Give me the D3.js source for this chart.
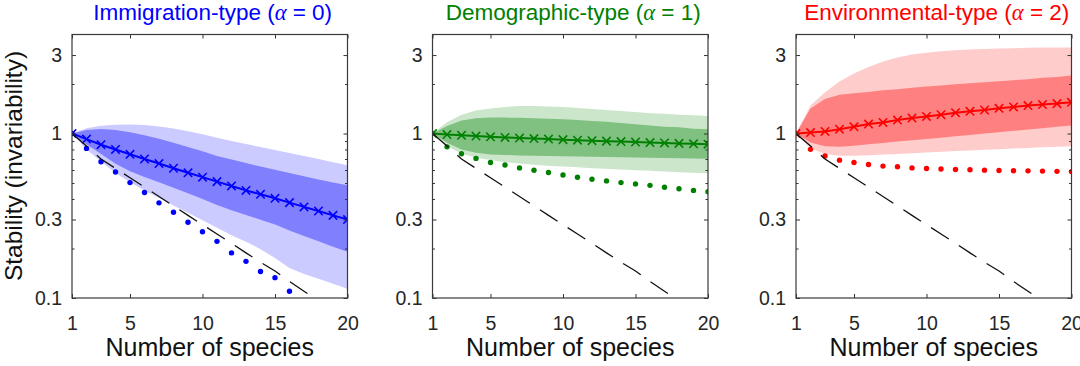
<!DOCTYPE html>
<html>
<head>
<meta charset="utf-8">
<script src="https://cdn.jsdelivr.net/npm/d3@7"></script>
<style>
    body { margin: 0; background: #fff; }
    svg { display: block; font-family: "Liberation Sans", Arial, Helvetica, sans-serif; }
</style>
</head>
<body>
<svg id="chart" width="1080" height="366"></svg>
<script>

// x values: number of species
let species = [1, 2, 3, 4, 5, 6, 7, 8, 9, 10, 11, 12, 13, 14, 15, 16, 17, 18, 19, 20];

// black dashed reference curve (same in every panel)
let refLine = [1, 0.84, 0.70, 0.614, 0.538, 0.472, 0.414, 0.363, 0.318, 0.279,
               0.245, 0.215, 0.188, 0.165, 0.146, 0.126, 0.110, 0.096, 0.083, 0.072];

// Immigration-type (alpha = 0)
let immMean    = [1, 0.925, 0.855, 0.800, 0.748, 0.700, 0.657, 0.615, 0.577, 0.543,
                  0.510, 0.480, 0.451, 0.427, 0.404, 0.380, 0.358, 0.338, 0.318, 0.300];
let immDots    = [1, 0.812, 0.674, 0.584, 0.503, 0.438, 0.379, 0.332, 0.289, 0.253,
                  0.221, 0.188, 0.167, 0.145, 0.133, 0.110];
let immLightHi = [1, 1.078, 1.114, 1.130, 1.135, 1.125, 1.104, 1.073, 1.033, 0.990,
                  0.941, 0.902, 0.864, 0.828, 0.794, 0.761, 0.729, 0.699, 0.670, 0.642];
let immDarkHi  = [1, 1.052, 1.067, 1.052, 1.019, 0.977, 0.929, 0.879, 0.828, 0.780,
                  0.730, 0.695, 0.661, 0.631, 0.603, 0.575, 0.550, 0.525, 0.504, 0.484];
let immDarkLo  = [1, 0.860, 0.750, 0.655, 0.590, 0.545, 0.505, 0.468, 0.434, 0.400,
                  0.368, 0.342, 0.320, 0.299, 0.280, 0.257, 0.238, 0.221, 0.205, 0.191];
let immLightLo = [1, 0.800, 0.675, 0.576, 0.505, 0.451, 0.405, 0.365, 0.330, 0.297,
                  0.267, 0.241, 0.220, 0.198, 0.175, 0.152, 0.140, 0.131, 0.122, 0.114];

// Demographic-type (alpha = 1)
let demMean    = [1, 0.985, 0.975, 0.965, 0.955, 0.947, 0.939, 0.932, 0.925, 0.918,
                  0.911, 0.905, 0.899, 0.893, 0.887, 0.881, 0.876, 0.871, 0.866, 0.861];
let demDots    = [1, 0.830, 0.754, 0.706, 0.667, 0.643, 0.618, 0.598, 0.579, 0.560,
                  0.542, 0.527, 0.515, 0.503, 0.494, 0.484, 0.471, 0.462, 0.451, 0.443];
let demLightHi = [1, 1.17, 1.30, 1.38, 1.42, 1.45, 1.47, 1.47, 1.46, 1.45,
                  1.43, 1.41, 1.39, 1.37, 1.35, 1.33, 1.32, 1.30, 1.29, 1.28];
let demDarkHi  = [1, 1.11, 1.20, 1.24, 1.25, 1.25, 1.245, 1.24, 1.23, 1.22,
                  1.21, 1.19, 1.18, 1.16, 1.14, 1.12, 1.10, 1.09, 1.07, 1.06];
let demDarkLo  = [1, 0.880, 0.800, 0.764, 0.746, 0.740, 0.736, 0.733, 0.730, 0.728,
                  0.726, 0.723, 0.720, 0.718, 0.716, 0.713, 0.710, 0.708, 0.705, 0.703];
let demLightLo = [1, 0.840, 0.754, 0.713, 0.690, 0.670, 0.657, 0.645, 0.637, 0.630,
                  0.623, 0.616, 0.610, 0.604, 0.598, 0.593, 0.587, 0.582, 0.578, 0.574];

// Environmental-type (alpha = 2)
let envMean    = [1, 1.014, 1.030, 1.063, 1.099, 1.141, 1.168, 1.207, 1.242, 1.271,
                  1.302, 1.339, 1.364, 1.390, 1.423, 1.451, 1.479, 1.500, 1.520, 1.549];
let envDots    = [1, 0.801, 0.730, 0.689, 0.667, 0.648, 0.634, 0.628, 0.618, 0.613,
                  0.608, 0.604, 0.602, 0.599, 0.596, 0.594, 0.593, 0.591, 0.589, 0.587];
let envLightHi = [1, 1.48, 1.78, 2.07, 2.32, 2.54, 2.74, 2.90, 3.02, 3.10,
                  3.16, 3.21, 3.24, 3.27, 3.29, 3.30, 3.32, 3.33, 3.33, 3.34];
let envDarkHi  = [1, 1.42, 1.62, 1.72, 1.76, 1.79, 1.83, 1.86, 1.90, 1.93,
                  1.96, 1.99, 2.02, 2.05, 2.08, 2.11, 2.14, 2.18, 2.21, 2.25];
let envDarkLo  = [1, 0.881, 0.836, 0.832, 0.844, 0.861, 0.877, 0.894, 0.910, 0.927,
                  0.944, 0.963, 0.981, 1.000, 1.019, 1.038, 1.058, 1.078, 1.099, 1.120];
let envLightLo = [1, 0.813, 0.750, 0.733, 0.733, 0.738, 0.745, 0.752, 0.759, 0.767,
                  0.774, 0.782, 0.789, 0.796, 0.803, 0.811, 0.817, 0.824, 0.830, 0.836];

// axis ticks
let xTicks = [1, 5, 10, 15, 20];
let yTicks = [0.1, 0.3, 1, 3];
let yTickLabels = ["0.1", "0.3", "1", "3"];
let yMinorTicks = [0.2, 0.4, 0.5, 0.6, 0.7, 0.8, 0.9, 2];

let panelTitles = ["Immigration-type", "Demographic-type", "Environmental-type"];
let alphaValues = [0, 1, 2];


/** One of the three small log-scale panels. */
class StabilityPanel {

    constructor(svg, left, cfg) {
        this.svg = svg;
        this.cfg = cfg;

        this.box = {"left": left, "top": 34.5, "width": 275.5, "height": 263.5};

        this.x = d3.scaleLinear()
            .domain([1, 20])
            .range([left, left + this.box.width]);

        this.y = d3.scaleLog()
            .domain([0.1, 4])
            .range([this.box.top + this.box.height, this.box.top]);

        this.g = svg.append('g');
    }

    draw() {
        let cfg = this.cfg;
        let x = this.x, y = this.y;

        //clip marks to the plotting box
        let clipId = 'clip' + cfg.index;
        this.svg.append('clipPath').attr('id', clipId)
          .append('rect')
            .attr('x', this.box.left).attr('y', this.box.top)
            .attr('width', this.box.width).attr('height', this.box.height);

        let plot = this.g.append('g').attr('clip-path', 'url(#' + clipId + ')');

        let band = d3.area()
            .x(function(d){ return x(d.n); })
            .y0(function(d){ return y(d.lo); })
            .y1(function(d){ return y(d.hi); });

        let outer = species.map(function(n, i){ return {n: n, lo: cfg.lightLo[i], hi: cfg.lightHi[i]}; });
        let inner = species.map(function(n, i){ return {n: n, lo: cfg.darkLo[i], hi: cfg.darkHi[i]}; });

        plot.append('path').datum(outer).attr('d', band).style('fill', cfg.light);
        plot.append('path').datum(inner).attr('d', band).style('fill', cfg.dark);

        //mean line with x markers
        let line = d3.line()
            .x(function(d){ return x(d.n); })
            .y(function(d){ return y(d.v); });

        let meanData = species.map(function(n, i){ return {n: n, v: cfg.mean[i]}; });
        plot.append('path').datum(meanData)
            .attr('d', line)
            .style('fill', 'none')
            .style('stroke', cfg.color)
            .style('stroke-width', 2);

        plot.selectAll('.xmark').data(meanData)
            .enter()
            .append('path')
            .attr('class', 'xmark')
            .attr('transform', function(d){ return 'translate(' + x(d.n) + ',' + y(d.v) + ')'; })
            .attr('d', 'M-4.2,-4.2L4.2,4.2M-4.2,4.2L4.2,-4.2')
            .style('stroke', cfg.color)
            .style('stroke-width', 1.6)
            .style('fill', 'none');

        //dotted series
        plot.selectAll('.dot').data(cfg.dots)
            .enter()
            .append('circle')
            .attr('class', 'dot')
            .attr('cx', function(d, i){ return x(species[i]); })
            .attr('cy', function(d){ return y(d); })
            .attr('r', 2.7)
            .style('fill', cfg.color);

        //dashed reference
        let refData = species.map(function(n, i){ return {n: n, v: refLine[i]}; });
        plot.append('path').datum(refData)
            .attr('d', line)
            .style('fill', 'none')
            .style('stroke', '#111')
            .style('stroke-width', 1.3)
            .style('stroke-dasharray', '21,12');

        this.drawAxes();
        this.drawLabels();
    }

    drawAxes() {
        let b = this.box;
        let bottom = b.top + b.height;
        let right = b.left + b.width;
        let ax = this.g.append('g').attr('class', 'axes');

        let xAxis = d3.axisBottom(this.x).tickValues(xTicks).tickSize(-4).tickSizeOuter(0).tickPadding(18);
        let xTop = d3.axisTop(this.x).tickValues(xTicks).tickSize(-4).tickSizeOuter(0).tickFormat('');
        let yAxis = d3.axisLeft(this.y).tickValues(yTicks).tickSize(-4).tickSizeOuter(0).tickPadding(10)
            .tickFormat(function(d, i){ return yTickLabels[i]; });
        let yRight = d3.axisRight(this.y).tickValues(yTicks).tickSize(-4).tickSizeOuter(0).tickFormat('');
        let yMinorL = d3.axisLeft(this.y).tickValues(yMinorTicks).tickSize(-2.5).tickSizeOuter(0).tickFormat('');
        let yMinorR = d3.axisRight(this.y).tickValues(yMinorTicks).tickSize(-2.5).tickSizeOuter(0).tickFormat('');

        ax.append('g').attr('transform', 'translate(0,' + bottom + ')').call(xAxis);
        ax.append('g').attr('transform', 'translate(0,' + b.top + ')').call(xTop);
        ax.append('g').attr('transform', 'translate(' + b.left + ',0)').call(yAxis);
        ax.append('g').attr('transform', 'translate(' + right + ',0)').call(yRight);
        ax.append('g').attr('transform', 'translate(' + b.left + ',0)').call(yMinorL);
        ax.append('g').attr('transform', 'translate(' + right + ',0)').call(yMinorR);

        ax.selectAll('.domain').remove();
        ax.selectAll('.tick line').style('stroke', '#333').style('stroke-width', 1);
        ax.selectAll('.tick text')
            .style('font-size', '19.5px')
            .style('font-family', '"Liberation Sans", Arial, sans-serif')
            .style('fill', '#262626');

        //frame
        ax.append('rect')
            .attr('x', b.left).attr('y', b.top)
            .attr('width', b.width).attr('height', b.height)
            .style('fill', 'none')
            .style('stroke', '#3a3a3a')
            .style('stroke-width', 1.2);
    }

    drawLabels() {
        let b = this.box;
        let cx = b.left + b.width / 2;

        let title = this.g.append('text')
            .attr('x', cx + 3)
            .attr('y', 20)
            .attr('text-anchor', 'middle')
            .style('font-size', '22.5px')
            .style('fill', this.cfg.color);
        title.append('tspan').text(this.cfg.title + ' (');
        title.append('tspan')
            .style('font-family', '"Liberation Serif", "Times New Roman", serif')
            .style('font-style', 'italic')
            .text('\u03b1');
        title.append('tspan').text(' = ' + this.cfg.alpha + ')');

        this.g.append('text')
            .attr('x', cx)
            .attr('y', 356)
            .attr('text-anchor', 'middle')
            .style('font-size', '25px')
            .style('fill', '#111')
            .text('Number of species');
    }
}


let svg = d3.select('#chart');

let panels = [
    {index: 0, left: 72, title: panelTitles[0], alpha: alphaValues[0],
     color: '#0000ff', light: '#cbcbff', dark: '#8080ff',
     mean: immMean, dots: immDots, lightHi: immLightHi, lightLo: immLightLo, darkHi: immDarkHi, darkLo: immDarkLo},
    {index: 1, left: 432.5, title: panelTitles[1], alpha: alphaValues[1],
     color: '#008000', light: '#cce6cc', dark: '#80c080',
     mean: demMean, dots: demDots, lightHi: demLightHi, lightLo: demLightLo, darkHi: demDarkHi, darkLo: demDarkLo},
    {index: 2, left: 796, title: panelTitles[2], alpha: alphaValues[2],
     color: '#ff0000', light: '#ffcccc', dark: '#ff8080',
     mean: envMean, dots: envDots, lightHi: envLightHi, lightLo: envLightLo, darkHi: envDarkHi, darkLo: envDarkLo}
];

panels.forEach(function(p){
    let panel = new StabilityPanel(svg, p.left, p);
    panel.draw();
});

//shared y label on the first panel
svg.append('text')
    .attr('transform', 'translate(21.5,166) rotate(-90)')
    .attr('text-anchor', 'middle')
    .style('font-size', '24.5px')
    .style('fill', '#111')
    .text('Stability (invariability)');

</script>
